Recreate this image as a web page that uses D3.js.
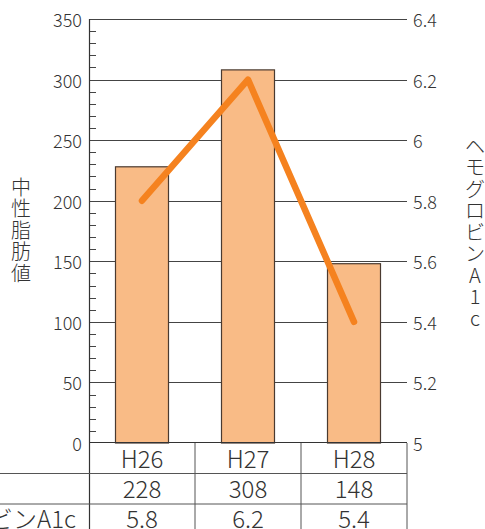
<!DOCTYPE html>
<html><head><meta charset="utf-8">
<script src="https://cdn.jsdelivr.net/npm/d3@7"></script>
<style>
html,body{margin:0;padding:0;background:#fff;}
text{font-family:"Noto Sans CJK JP","Noto Sans",sans-serif;fill:#333;font-weight:300;}
</style></head>
<body>
<svg id="c" width="485" height="529"></svg>
<script>
const categories = ["H26","H27","H28"];
const triglyceride = [228,308,148];
const hba1c = [5.8,6.2,5.4];
const leftTicks = [0,50,100,150,200,250,300,350];
const rightTicks = [5,5.2,5.4,5.6,5.8,6,6.2,6.4];
const leftTitle = "中性脂肪値";
const rightTitle = "ヘモグロビンA1c";
const rowLabels = ["", "ヘモグロビンA1c"];

const svg = d3.select("#c");
const L = 89, R = 407, T = 19, B = 443;
const x = d3.scaleBand().domain(categories).range([L, R]).paddingInner(0).paddingOuter(0);
const y = d3.scaleLinear().domain([0,350]).range([B, T]);
const y2 = d3.scaleLinear().domain([5,6.4]).range([B, T]);

// gridlines
svg.append("g").selectAll("line").data(leftTicks.filter(d=>d>0)).join("line")
  .attr("x1", L).attr("x2", R).attr("y1", d=>Math.round(y(d))+0.5).attr("y2", d=>Math.round(y(d))+0.5)
  .attr("stroke", "#444").attr("stroke-width", 1);

// minor ticks
svg.append("g").selectAll("line").data(d3.range(10,350,10).filter(d=>d%50!==0)).join("line")
  .attr("x1", L).attr("x2", L+7).attr("y1", d=>Math.round(y(d))+0.5).attr("y2", d=>Math.round(y(d))+0.5)
  .attr("stroke", "#444").attr("stroke-width", 1);

// bars
const bw = x.bandwidth()*0.5;
svg.append("g").selectAll("rect").data(categories).join("rect")
  .attr("x", (d)=>x(d)+x.bandwidth()/2-bw/2)
  .attr("width", bw)
  .attr("y", (d,i)=>y(triglyceride[i]))
  .attr("height", (d,i)=>B-y(triglyceride[i]))
  .attr("fill", "#F9BB86").attr("stroke", "#4a3a30").attr("stroke-width", 1.2);

// left axis tick labels
svg.append("g").selectAll("text").data(leftTicks).join("text")
  .attr("x", 82).attr("y", d=>y(d)).attr("text-anchor","end").attr("dominant-baseline","central")
  .style("font-size","18px").text(d=>d);
// right axis tick labels
svg.append("g").selectAll("text").data(rightTicks).join("text")
  .attr("x", 413).attr("y", d=>y2(d)).attr("text-anchor","start").attr("dominant-baseline","central")
  .style("font-size","18px").text(d=>d3.format("~g")(d));

// line
const line = d3.line().x((d,i)=>x(categories[i])+x.bandwidth()/2).y(d=>y2(d));
svg.append("path").datum(hba1c).attr("d", line).attr("fill","none")
  .attr("stroke","#F5821F").attr("stroke-width",6.5).attr("stroke-linecap","round").attr("stroke-linejoin","round");

// axis line & baseline
svg.append("line").attr("x1",L+0.5).attr("x2",L+0.5).attr("y1",T).attr("y2",529).attr("stroke","#333").attr("stroke-width",1.2);
svg.append("line").attr("x1",L).attr("x2",R).attr("y1",B-0.5).attr("y2",B-0.5).attr("stroke","#333").attr("stroke-width",1.2);

// table
const rowH = 30.5;
const rows = [B, B+rowH, B+2*rowH, B+3*rowH];
svg.append("line").attr("x1",0).attr("x2",R).attr("y1",rows[1]).attr("y2",rows[1]).attr("stroke","#555");
svg.append("line").attr("x1",0).attr("x2",R).attr("y1",rows[2]).attr("y2",rows[2]).attr("stroke","#555");
svg.append("line").attr("x1",0).attr("x2",R).attr("y1",rows[3]).attr("y2",rows[3]).attr("stroke","#555");
svg.append("g").selectAll("line").data(categories.slice(1)).join("line")
  .attr("x1",d=>x(d)).attr("x2",d=>x(d)).attr("y1",B).attr("y2",529).attr("stroke","#555");
svg.append("line").attr("x1",R).attr("x2",R).attr("y1",B).attr("y2",529).attr("stroke","#555");

const tf = "24px";
svg.append("g").selectAll("text").data(categories).join("text")
  .attr("x", d=>x(d)+x.bandwidth()/2).attr("y", (rows[0]+rows[1])/2-1)
  .attr("text-anchor","middle").attr("dominant-baseline","central").style("font-size",tf).text(d=>d);
svg.append("g").selectAll("text").data(triglyceride).join("text")
  .attr("x", (d,i)=>x(categories[i])+x.bandwidth()/2).attr("y", (rows[1]+rows[2])/2-1)
  .attr("text-anchor","middle").attr("dominant-baseline","central").style("font-size",tf).text(d=>d);
svg.append("g").selectAll("text").data(hba1c).join("text")
  .attr("x", (d,i)=>x(categories[i])+x.bandwidth()/2).attr("y", (rows[2]+rows[3])/2-2)
  .attr("text-anchor","middle").attr("dominant-baseline","central").style("font-size",tf).text(d=>d.toFixed(1));
svg.append("g").selectAll("text").data(rowLabels).join("text")
  .attr("x", 76).attr("y", (d,i)=>(rows[i+1]+rows[i+2])/2-2)
  .attr("text-anchor","end").attr("dominant-baseline","central").style("font-size",tf).text(d=>d);

// vertical titles
svg.append("g").selectAll("text").data(Array.from(leftTitle)).join("text")
  .attr("x", 21).attr("y", (d,i)=>186+i*21.5).attr("text-anchor","middle").attr("dominant-baseline","central")
  .style("font-size","20px").text(d=>d);
svg.append("g").selectAll("text").data(Array.from(rightTitle)).join("text")
  .attr("x", 475).attr("y", (d,i)=>145+i*21.5).attr("text-anchor","middle").attr("dominant-baseline","central")
  .style("font-size","20px").text(d=>d);
</script>
</body></html>
